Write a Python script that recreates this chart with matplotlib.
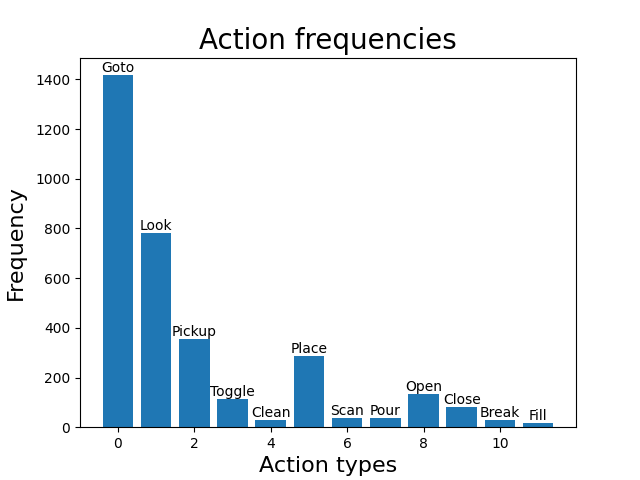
import matplotlib
matplotlib.use("Agg")
import matplotlib.pyplot as plt

actions = ["Goto", "Look", "Pickup", "Toggle", "Clean", "Place", "Scan", "Pour",
           "Open", "Close", "Break", "Fill"]
counts = [1417, 782, 355, 114, 29, 287, 37, 37, 134, 82, 29, 17]

fig, ax = plt.subplots(figsize=(6.4, 4.8), dpi=100)
x = list(range(len(actions)))
bars = ax.bar(x, counts)
for xi, c, name in zip(x, counts, actions):
    ax.text(xi, c, name, ha="center", va="bottom", fontsize=10)
ax.set_title("Action frequencies", fontsize=20)
ax.set_xlabel("Action types", fontsize=16)
ax.set_ylabel("Frequency", fontsize=16, labelpad=6.5)
fig.savefig("out.png")
